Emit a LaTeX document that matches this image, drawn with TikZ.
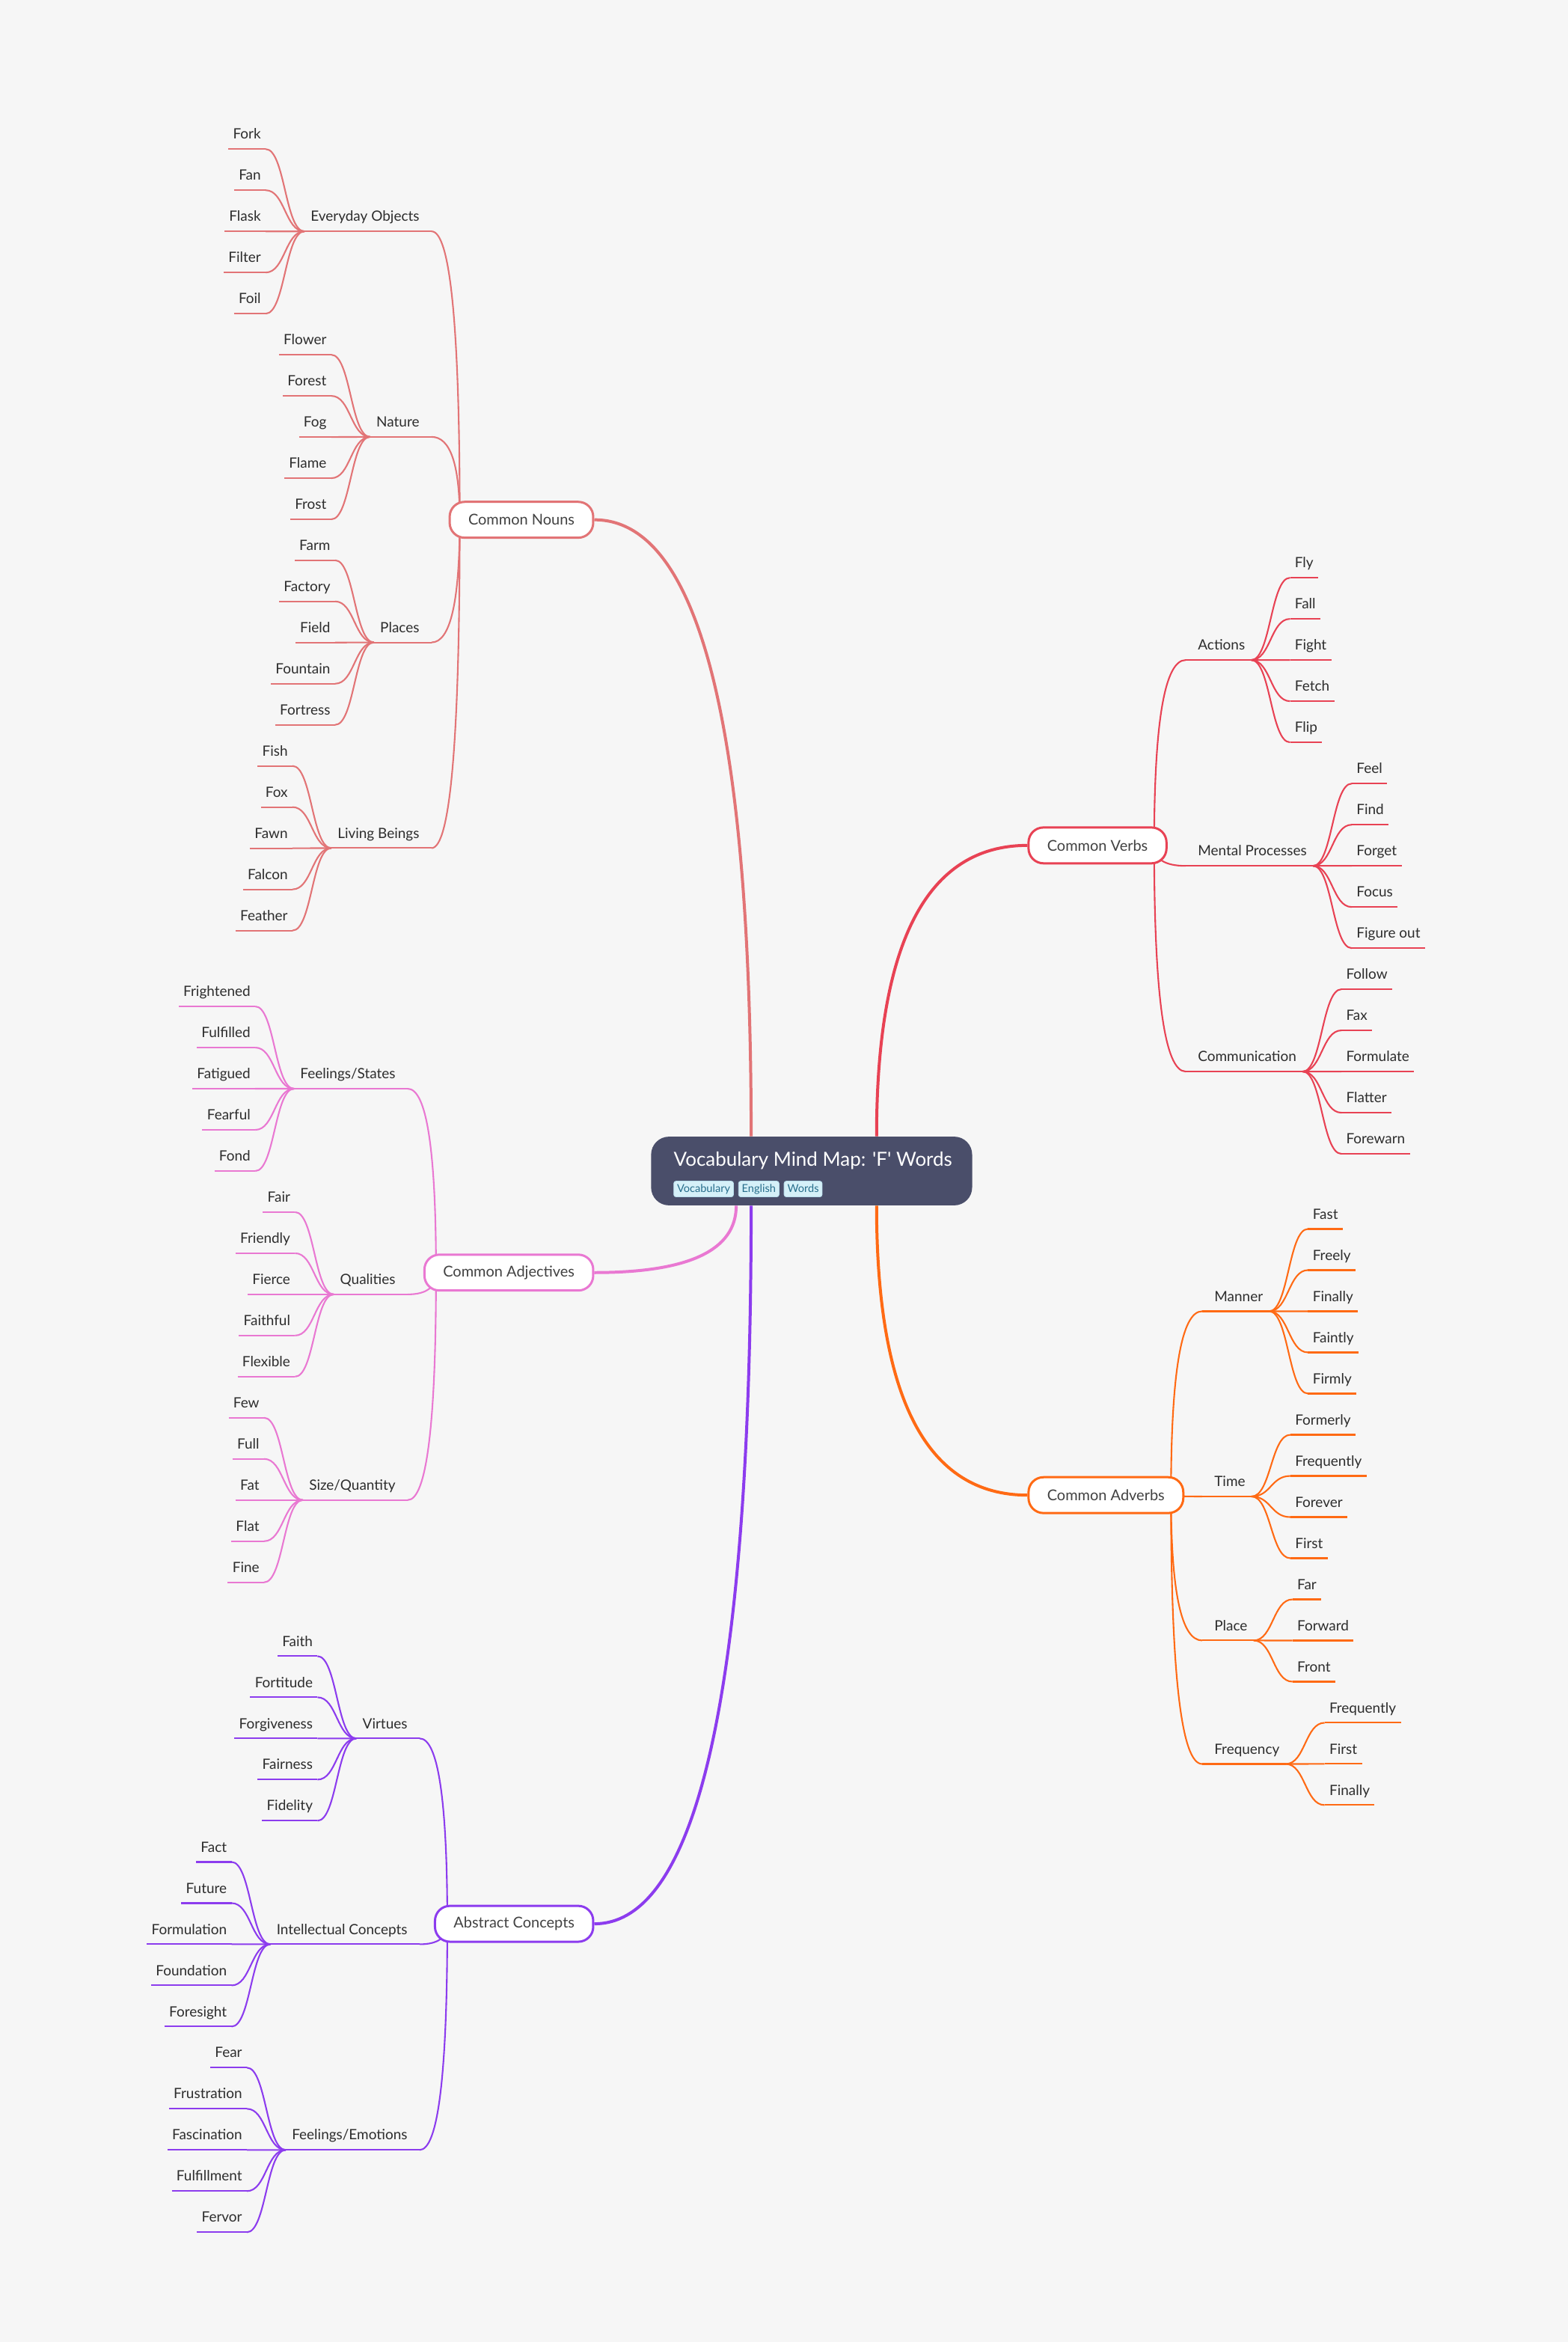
\documentclass[tikz,border=0pt]{standalone}
\usepackage{fontspec}
\setmainfont{Lato}
\newfontfamily\titlefont{Lato}[Ligatures=TeXOff]
\usetikzlibrary{calc}
\pgfdeclarelayer{bgl}
\pgfdeclarelayer{links}
\pgfsetlayers{bgl,links,main}

\definecolor{bg}{RGB}{246,246,246}
\definecolor{ink}{RGB}{45,45,45}
\definecolor{boxink}{RGB}{66,66,66}
\definecolor{cNoun}{RGB}{226,116,118}
\definecolor{cVerb}{RGB}{232,66,84}
\definecolor{cAdv}{RGB}{255,106,20}
\definecolor{cAdj}{RGB}{233,120,210}
\definecolor{cAbs}{RGB}{140,60,238}
\definecolor{hubfill}{RGB}{74,78,106}
\definecolor{tagfill}{RGB}{213,240,248}
\definecolor{tagline}{RGB}{185,222,236}
\definecolor{tagtext}{RGB}{40,110,140}

\tikzset{
  word/.style={font=\fontsize{9.5}{12}\selectfont, text=ink, inner ysep=0pt,
               text height=7pt, text depth=6.5pt},
  leafL/.style={word, inner xsep=3pt, anchor=south east},
  leafR/.style={word, inner xsep=3pt, anchor=south west},
  subL/.style={word, inner xsep=4pt, anchor=south east},
  subR/.style={word, inner xsep=4pt, anchor=south west},
  twigline/.style={line width=1.05pt},
  trunk/.style={line width=2pt},
  topbox/.style={draw=#1, fill=white, line width=1.5pt, rounded corners=10pt,
                 minimum height=24pt, inner xsep=12.5pt, inner ysep=0pt,
                 font=\fontsize{10}{12}\selectfont, text=boxink},
  rootbox/.style={fill=hubfill, rounded corners=12pt, minimum width=215pt,
                  minimum height=46pt, inner sep=0pt},
  titletext/.style={font=\titlefont\fontsize{13}{16}\selectfont, text=white,
                    anchor=base west, inner sep=0pt},
  tag/.style={fill=tagfill, draw=tagline, line width=0.4pt, rounded corners=1.5pt,
              inner xsep=2.2pt, inner ysep=0pt, minimum height=10.5pt,
              text height=6pt, text depth=1.6pt,
              font=\fontsize{7.3}{9}\selectfont, text=tagtext, anchor=south west},
}

% curve leaving #2 horizontally and arriving at #3 vertically
\newcommand\bend[3]{\draw[#1] let \p1=(#2), \p2=(#3) in
  (\p1) .. controls ({\x1+0.6667*(\x2-\x1)},\y1) and (\x2,{\y2+0.6667*(\y1-\y2)}) .. (\p2);}
% S-shaped curve, horizontal at both ends
\newcommand\twig[3]{\draw[#1] let \p1=(#2), \p2=(#3) in
  (\p1) .. controls ({0.5*(\x1+\x2)},\y1) and ({0.5*(\x1+\x2)},\y2) .. (\p2);}

% branch growing to the left: colour, hub, name, label, x, y, first leaf y, leaves
\newcommand\branchL[8]{%
  \node[subL] (#3) at (#5,#6) {#4};
  \coordinate (#3-e) at ([xshift=4pt]#3.south east);
  \path (#3.south west) ++(-26,0) coordinate (#3-x);
  \begin{pgfonlayer}{links}
    \draw[#1,twigline] (#3.south west) -- (#3-e);
    \bend{#1,twigline}{#3-e}{#2}
  \end{pgfonlayer}
  \foreach \w [count=\i from 0] in {#8} {
    \pgfmathsetmacro\yy{#7+27.55*\i}
    \node[leafL] (#3-\i) at (#3-x |- 0,\yy) {\w};
    \begin{pgfonlayer}{links}
      \draw[#1,twigline] (#3-\i.south west) -- (#3-\i.south east);
      \twig{#1,twigline}{#3-\i.south east}{#3.south west}
    \end{pgfonlayer}
  }
}
% branch growing to the right
\newcommand\branchR[8]{%
  \node[subR] (#3) at (#5,#6) {#4};
  \coordinate (#3-e) at ([xshift=-4pt]#3.south west);
  \path (#3.south east) ++(26,0) coordinate (#3-x);
  \begin{pgfonlayer}{links}
    \draw[#1,twigline] (#3-e) -- (#3.south east);
    \bend{#1,twigline}{#3-e}{#2}
  \end{pgfonlayer}
  \foreach \w [count=\i from 0] in {#8} {
    \pgfmathsetmacro\yy{#7+27.55*\i}
    \node[leafR] (#3-\i) at (#3-x |- 0,\yy) {\w};
    \begin{pgfonlayer}{links}
      \draw[#1,twigline] (#3-\i.south west) -- (#3-\i.south east);
      \twig{#1,twigline}{#3-\i.south west}{#3.south east}
    \end{pgfonlayer}
  }
}

\begin{document}
\begin{tikzpicture}[x=1pt,y=-1pt]
\useasboundingbox (0,0) rectangle (1050,1568);
\begin{pgfonlayer}{bgl}
  \fill[bg] (0,0) rectangle (1050,1568);
\end{pgfonlayer}

% central topic
\node[rootbox] (root) at (543.5,784) {};
\node[titletext] (title) at (451,780.5) {Vocabulary Mind Map: 'F' Words};
\node[tag] (tg1) at (451,801.5) {Vocabulary};
\node[tag] (tg2) at ([xshift=3pt]tg1.south east) {English};
\node[tag] (tg3) at ([xshift=3pt]tg2.south east) {Words};

% main topics
\node[topbox=cNoun, anchor=east] (nouns) at (398,348) {Common Nouns};
\node[topbox=cAdj,  anchor=east] (adj)   at (398,852) {Common Adjectives};
\node[topbox=cAbs,  anchor=east] (abs)   at (398,1288) {Abstract Concepts};
\node[topbox=cVerb, anchor=west] (verbs) at (688,566) {Common Verbs};
\node[topbox=cAdv,  anchor=west] (advs)  at (688,1001) {Common Adverbs};

\coordinate (nounsH) at ([xshift=7.5pt]nouns.west);
\coordinate (adjH)   at ([xshift=8.5pt]adj.west);
\coordinate (absH)   at ([xshift=9pt]abs.west);
\coordinate (verbsH) at ([xshift=-9pt]verbs.east);
\coordinate (advsH)  at ([xshift=-9pt]advs.east);

\coordinate (rN) at (root.north -| 503,0);
\coordinate (rV) at (root.north -| 587,0);
\coordinate (rA) at (root.south -| 493,0);
\coordinate (rB) at (root.south -| 503,0);
\coordinate (rD) at (root.south -| 587,0);

\begin{pgfonlayer}{links}
  \bend{cNoun,trunk}{nouns.east}{rN}
  \bend{cAdj,trunk}{adj.east}{rA}
  \bend{cAbs,trunk}{abs.east}{rB}
  \bend{cVerb,trunk}{verbs.west}{rV}
  \bend{cAdv,trunk}{advs.west}{rD}
\end{pgfonlayer}

% Common Nouns
\branchL{cNoun}{nounsH}{eo}{Everyday Objects}{285}{154.9}{99.8}{Fork,Fan,Flask,Filter,Foil}
\branchL{cNoun}{nounsH}{nat}{Nature}{285}{292.5}{237.5}{Flower,Forest,Fog,Flame,Frost}
\branchL{cNoun}{nounsH}{pla}{Places}{285}{430.1}{375.1}{Farm,Factory,Field,Fountain,Fortress}
\branchL{cNoun}{nounsH}{liv}{Living Beings}{285}{567.8}{512.8}{Fish,Fox,Fawn,Falcon,Feather}

% Common Adjectives
\branchL{cAdj}{adjH}{fs}{Feelings/States}{269}{728.9}{673.8}{Frightened,Fulfilled,Fatigued,Fearful,Fond}
\branchL{cAdj}{adjH}{qua}{Qualities}{269}{866.6}{811.5}{Fair,Friendly,Fierce,Faithful,Flexible}
\branchL{cAdj}{adjH}{siz}{Size/Quantity}{269}{1004.3}{949.2}{Few,Full,Fat,Flat,Fine}

% Abstract Concepts
\branchL{cAbs}{absH}{vir}{Virtues}{277}{1163.9}{1108.8}{Faith,Fortitude,Forgiveness,Fairness,Fidelity}
\branchL{cAbs}{absH}{int}{Intellectual Concepts}{277}{1301.7}{1246.6}{Fact,Future,Formulation,Foundation,Foresight}
\branchL{cAbs}{absH}{emo}{Feelings/Emotions}{277}{1439.4}{1384.3}{Fear,Frustration,Fascination,Fulfillment,Fervor}

% Common Verbs
\branchR{cVerb}{verbsH}{act}{Actions}{798}{441.9}{386.8}{Fly,Fall,Fight,Fetch,Flip}
\branchR{cVerb}{verbsH}{men}{Mental Processes}{798}{579.7}{524.6}{Feel,Find,Forget,Focus,Figure out}
\branchR{cVerb}{verbsH}{com}{Communication}{798}{717.4}{662.3}{Follow,Fax,Formulate,Flatter,Forewarn}

% Common Adverbs
\branchR{cAdv}{advsH}{man}{Manner}{809}{877.9}{822.8}{Fast,Freely,Finally,Faintly,Firmly}
\branchR{cAdv}{advsH}{tim}{Time}{809}{1001.9}{960.6}{Formerly,Frequently,Forever,First}
\branchR{cAdv}{advsH}{plc}{Place}{809}{1098.3}{1070.8}{Far,Forward,Front}
\branchR{cAdv}{advsH}{frq}{Frequency}{809}{1181.0}{1153.4}{Frequently,First,Finally}
\end{tikzpicture}
\end{document}
